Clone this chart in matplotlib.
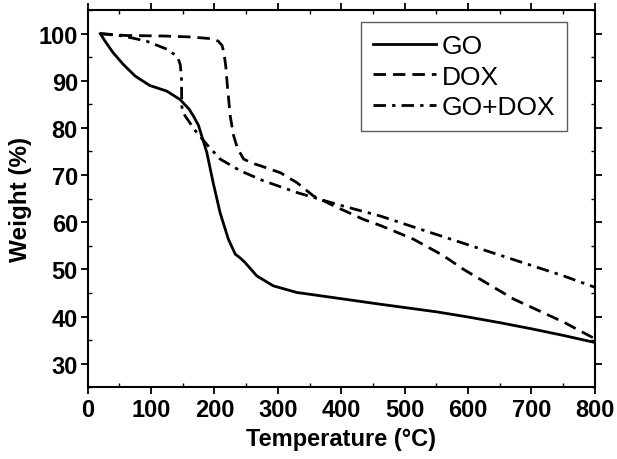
import matplotlib.pyplot as plt
from matplotlib.ticker import MultipleLocator

# TGA data (temperature in C, weight in %)
go_t = [20, 28, 40, 56, 75, 98, 125, 146, 160, 167, 175, 180, 188, 198, 209,
        222, 233, 240, 248, 267, 293, 330, 383, 462, 550, 600, 650, 700, 750,
        800]
go_w = [100, 98.3, 96, 93.5, 91, 89, 87.8, 86, 84, 82.5, 80.5, 78.3, 74.8,
        68.4, 62, 56.4, 53.2, 52.5, 51.5, 48.6, 46.5, 45.1, 44.1, 42.6, 41,
        39.9, 38.7, 37.4, 36.0, 34.5]

dox_t = [20, 60, 119, 160, 198, 206, 212, 215, 218, 220, 225, 230, 236, 246,
         260, 272, 304, 330, 356, 388, 435, 462, 514, 560, 593, 672, 751, 800]
dox_w = [100, 99.6, 99.5, 99.3, 98.9, 98.4, 97.5, 96, 93, 89.6, 82.5, 78.5,
         75.8, 73.4, 72.5, 72, 70.5, 68.4, 65.6, 63.5, 60.6, 59.3, 56.4, 53,
         50, 43.7, 38.8, 35.3]

godox_t = [20, 56, 93, 125, 138, 143, 146, 148, 148.5, 150, 154, 170, 188, 209,
           241, 277, 330, 383, 404, 462, 541, 646, 751, 800]
godox_w = [100, 99.5, 98.4, 96.7, 95.5, 94.6, 93.5, 91, 84.7, 83.5, 82.5, 79.4,
           76.5, 73.4, 70.9, 68.8, 66.3, 64.2, 63.4, 61.3, 57.8, 53.2, 48.6, 46.2]

plt.rcParams["font.family"] = ["Liberation Sans", "DejaVu Sans"]

fig = plt.figure(figsize=(6.17, 4.60), dpi=100)
ax = fig.add_axes([0.142, 0.156, 0.822, 0.820])

ax.plot(go_t, go_w, color="black", lw=2.0, label="GO")
ax.plot(dox_t, dox_w, color="black", lw=2.0, dashes=(4.5, 2.5), label="DOX")
ax.plot(godox_t, godox_w, color="black", lw=2.0,
        dashes=(4.5, 2.2, 1.2, 2.2), label="GO+DOX")

ax.set_xlim(0, 800)
ax.set_ylim(25, 105)
ax.xaxis.set_major_locator(MultipleLocator(100))
ax.xaxis.set_minor_locator(MultipleLocator(50))
ax.yaxis.set_major_locator(MultipleLocator(10))
ax.yaxis.set_minor_locator(MultipleLocator(5))
ax.set_yticks(range(30, 101, 10))

for s in ax.spines.values():
    s.set_linewidth(1.5)

ax.tick_params(which="major", direction="out", length=5, width=1.3,
               labelsize=17, pad=2)
ax.tick_params(which="minor", direction="in", length=3, width=1.0)
ax.tick_params(which="both", top=True, right=True)
ax.tick_params(axis="x", which="major", pad=3)
for lab in ax.get_xticklabels() + ax.get_yticklabels():
    lab.set_fontweight("bold")

ax.set_xlabel("Temperature (°C)", fontsize=17, fontweight="bold", labelpad=4)
ax.set_ylabel("Weight (%)", fontsize=17.5, fontweight="bold", labelpad=5)

leg = ax.legend(loc="upper right", bbox_to_anchor=(0.945, 0.968),
                borderaxespad=0, fontsize=19, frameon=True, fancybox=False,
                handlelength=2.4, handletextpad=0.2, labelspacing=0.25,
                borderpad=0.45)
leg.get_frame().set_edgecolor("#333333")
leg.get_frame().set_linewidth(1.0)

fig.savefig("out.png", dpi=100)
